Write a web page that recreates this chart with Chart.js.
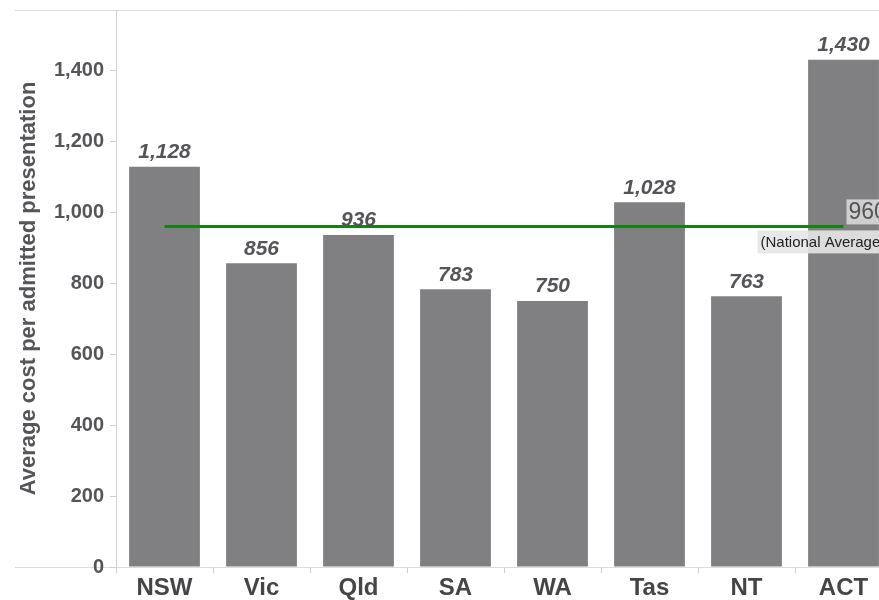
<!DOCTYPE html>
<html lang="en">
<head>
    <meta charset="UTF-8">
    <title>Average cost per admitted presentation</title>
    <script src="https://cdn.jsdelivr.net/npm/chart.js"></script>
    <style>
        html, body { margin: 0; padding: 0; background: #fff; overflow: hidden; }
        #wrap { width: 900px; height: 600px; }
    </style>
</head>
<body>
    <div id="wrap"><canvas id="costChart"></canvas></div>

    <script>
        // chart data
        const states = ['NSW', 'Vic', 'Qld', 'SA', 'WA', 'Tas', 'NT', 'ACT'];
        const avgCost = [1128, 856, 936, 783, 750, 1028, 763, 1430];
        const yTicks = [0, 200, 400, 600, 800, 1000, 1200, 1400];
        const nationalAverage = 960;
        const avgLine = states.map(() => nationalAverage);

        const textGrey = '#555559';
        const axisGrey = '#d0d0d0';

        // panel borders, value labels above bars and the national average tag
        const labelPlugin = {
            id: 'labels',
            beforeDraw(chart) {
                const { ctx, chartArea } = chart;
                ctx.save();
                ctx.strokeStyle = '#dcdcdc';
                ctx.lineWidth = 1;
                ctx.beginPath();
                ctx.moveTo(15, chartArea.top + 0.5);
                ctx.lineTo(chart.width, chartArea.top + 0.5);
                ctx.moveTo(15, chartArea.bottom + 0.5);
                ctx.lineTo(chart.width, chartArea.bottom + 0.5);
                ctx.stroke();
                ctx.restore();
            },
            afterDatasetsDraw(chart) {
                const { ctx } = chart;
                const bars = chart.getDatasetMeta(1).data;
                ctx.save();
                ctx.fillStyle = textGrey;
                ctx.font = 'italic bold 21px "Liberation Sans", Arial, sans-serif';
                ctx.textAlign = 'center';
                ctx.textBaseline = 'bottom';
                bars.forEach((bar, i) => {
                    ctx.fillText(avgCost[i].toLocaleString('en-US'), bar.x, bar.y - 4);
                });

                const pts = chart.getDatasetMeta(0).data;
                const last = pts[pts.length - 1];
                const x = last.x + 3;
                const y = last.y;
                ctx.fillStyle = 'rgba(215,215,215,0.9)';
                ctx.fillRect(x, y - 27, 60, 25);
                ctx.fillStyle = textGrey;
                ctx.font = '23px "Liberation Sans", Arial, sans-serif';
                ctx.textAlign = 'left';
                ctx.textBaseline = 'middle';
                ctx.fillText(nationalAverage.toString(), x + 2, y - 14);

                ctx.font = '15px "Liberation Sans", Arial, sans-serif';
                const note = '(National Average)';
                const w = ctx.measureText(note).width;
                ctx.fillStyle = 'rgba(230,230,230,0.9)';
                ctx.fillRect(last.x - 86, y + 4, w + 6, 23);
                ctx.fillStyle = '#222';
                ctx.fillText(note, last.x - 83, y + 16);
                ctx.restore();
            }
        };

        const ctx = document.getElementById('costChart').getContext('2d');
        new Chart(ctx, {
            data: {
                labels: states,
                datasets: [{
                    type: 'line',
                    label: 'National Average',
                    data: avgLine,
                    borderColor: '#128212',
                    borderWidth: 3,
                    pointRadius: 0,
                    order: 0
                }, {
                    type: 'bar',
                    label: 'Average cost',
                    data: avgCost,
                    backgroundColor: '#808083',
                    barPercentage: 0.73,
                    categoryPercentage: 1,
                    order: 1
                }]
            },
            options: {
                responsive: true,
                maintainAspectRatio: false,
                animation: false,
                layout: { padding: { left: 0, right: 8, top: 10, bottom: 0 } },
                plugins: {
                    legend: { display: false },
                    tooltip: { enabled: false }
                },
                scales: {
                    x: {
                        offset: true,
                        border: { display: false },
                        grid: {
                            offset: true,
                            drawOnChartArea: false,
                            drawTicks: true,
                            tickLength: 6,
                            color: axisGrey
                        },
                        ticks: {
                            color: '#454548',
                            padding: 1,
                            font: { family: '"Liberation Sans", Arial, sans-serif', size: 24, weight: 'bold' }
                        },
                        afterFit: s => { s.height = 33; }
                    },
                    y: {
                        min: 0,
                        max: 1570,
                        border: { display: true, color: axisGrey },
                        grid: {
                            drawOnChartArea: false,
                            drawTicks: true,
                            tickLength: 6,
                            color: axisGrey
                        },
                        ticks: {
                            color: textGrey,
                            padding: 6,
                            font: { family: '"Liberation Sans", Arial, sans-serif', size: 20, weight: 'bold' },
                            callback: v => v.toLocaleString('en-US')
                        },
                        afterBuildTicks: s => { s.ticks = yTicks.map(v => ({ value: v })); },
                        title: {
                            display: true,
                            text: 'Average cost per admitted presentation',
                            color: textGrey,
                            padding: { top: 16, bottom: 0 },
                            font: { family: '"Liberation Sans", Arial, sans-serif', size: 22, weight: 'bold' }
                        },
                        afterFit: s => { s.width = 116; s.paddingTop = 0; s.paddingBottom = 0; }
                    }
                }
            },
            plugins: [labelPlugin]
        });
    </script>
</body>
</html>
